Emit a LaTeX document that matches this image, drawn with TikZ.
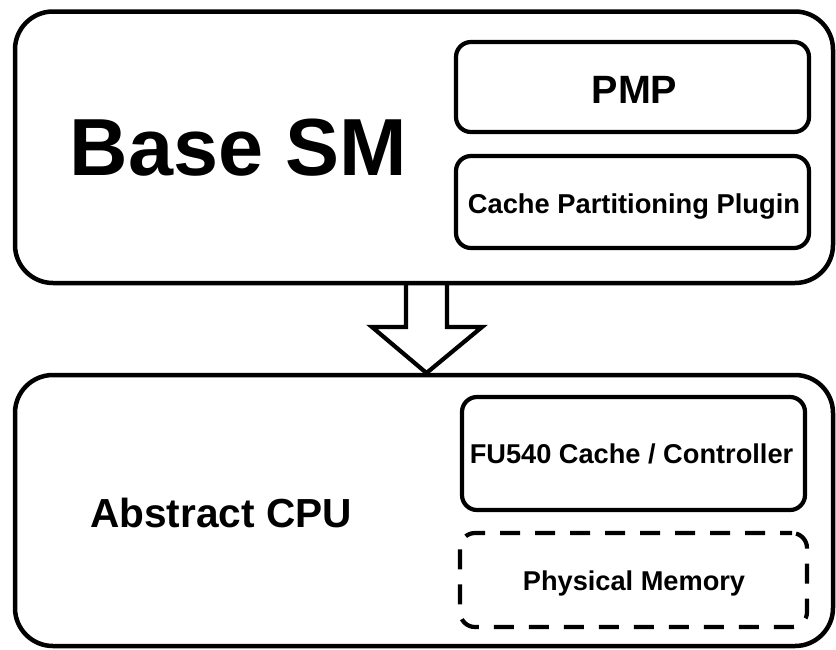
\documentclass[tikz,border=0pt]{standalone}
\usepackage{fontspec}
\setmainfont{Liberation Sans}
\newcommand\myfs[1]{\fontsize{#1}{#1}\selectfont\bfseries}
\tikzset{
  outerbox/.style={draw, line width=4.5pt, rounded corners=38pt, inner sep=0pt, fill=white},
  innerbox/.style={draw, line width=4.2pt, rounded corners=15pt, inner sep=0pt},
  dashbox/.style={draw, line width=4.2pt, rounded corners=15pt, inner sep=0pt, dash pattern=on 20pt off 15pt, dash phase=8pt},
  lbl/.style={anchor=base, inner sep=0pt},
  blockarrow/.style={draw, line width=4.2pt, line join=miter}
}
\begin{document}
\begin{tikzpicture}[x=1pt, y=-1pt]
\useasboundingbox (0,0) rectangle (836,649);
% top box
\node[outerbox, minimum width=818pt, minimum height=271.5pt] (top) at (424,147.25) {};
\node[innerbox, minimum width=353pt, minimum height=90pt] (pmp) at (632.5,87) {};
\node[innerbox, minimum width=353pt, minimum height=92pt] (cpp) at (632.5,202) {};
\node[lbl] (basesm) at (238.5,175) {\myfs{81}Base SM};
\node[lbl] (pmpt) at (634.5,103) {\myfs{39.5}PMP};
\node[lbl] (cppt) at (634,213) {\myfs{27.3}Cache Partitioning Plugin};
% bottom box
\node[outerbox, minimum width=818pt, minimum height=271pt] (bot) at (424,510.5) {};
\node[innerbox, minimum width=343pt, minimum height=113pt] (fu) at (633.5,453.5) {};
\node[dashbox, minimum width=347pt, minimum height=94pt] (pm) at (633.5,580) {};
\node[lbl] (cput) at (221,527) {\myfs{40.6}Abstract CPU};
\node[lbl] (fut) at (631.5,463) {\myfs{27.2}FU540 Cache / Controller};
\node[lbl] (pmt) at (634,590) {\myfs{27.2}Physical Memory};
% block arrow
\coordinate (as) at (426.5,283);
\coordinate (at) at (426.5,373);
\draw[blockarrow] ([xshift=-20.5pt]as) -- ([xshift=-20.5pt,yshift=-44pt]as) -- ([xshift=-54.5pt,yshift=-44pt]as) -- (at) -- ([xshift=55.5pt,yshift=-44pt]as) -- ([xshift=20.5pt,yshift=-44pt]as) -- ([xshift=20.5pt]as);
\end{tikzpicture}
\end{document}
